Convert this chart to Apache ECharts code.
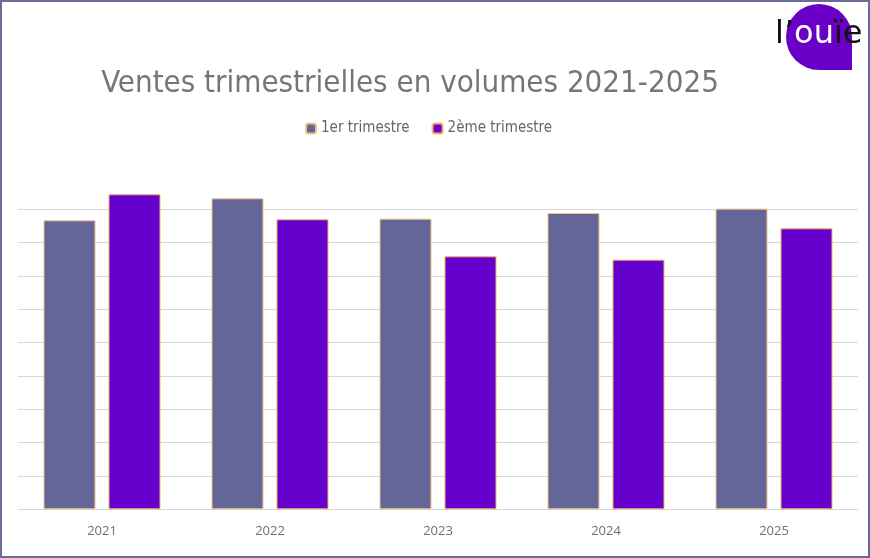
<!DOCTYPE html>
<html><head><meta charset="utf-8">
<script src="https://cdn.jsdelivr.net/npm/echarts@6/dist/echarts.min.js"></script>
<style>
html,body{margin:0;padding:0;background:#fff;}
#wrap{position:absolute;left:0;top:0;width:870px;height:558px;box-sizing:border-box;border:2px solid #6a6a9c;}
#c{position:absolute;left:0;top:0;width:870px;height:558px;}
</style></head>
<body><div id="c"></div><div id="wrap"></div>
<script>
const categories = ['2021','2022','2023','2024','2025'];
const seriesNames = ['1er trimestre','2ème trimestre'];
const q1 = [8.67, 9.33, 8.72, 8.89, 9.02];
const q2 = [9.45, 8.70, 7.59, 7.49, 8.43];
const titleText = 'Ventes trimestrielles en volumes 2021-2025';

const narrow = '"DejaVu Sans Condensed", Roboto';
const chart = echarts.init(document.getElementById('c'));
chart.setOption({
  animation:false,
  backgroundColor:'#fff',
  title:{text:titleText,left:405,top:63,textAlign:'center',
    textStyle:{color:'#767676',fontSize:31,fontWeight:'normal',fontFamily:narrow}},
  legend:{top:116,left:300,itemWidth:10,itemHeight:10,itemGap:22,
    textStyle:{color:'#666666',fontSize:15,fontFamily:narrow},
    data:seriesNames},
  grid:{left:18,right:12,top:209.3,bottom:48.7},
  xAxis:{type:'category',data:categories,
    axisLine:{lineStyle:{color:'#d9d9d9'}},axisTick:{show:false},
    axisLabel:{color:'#6f6f6f',fontSize:13,margin:15,fontFamily:'Open Sans'}},
  yAxis:{type:'value',min:0,max:9,interval:1,axisLabel:{show:false},
    axisLine:{show:false},axisTick:{show:false},
    splitLine:{lineStyle:{color:'#d9d9d9',width:1}}},
  series:[
    {name:seriesNames[0],type:'bar',data:q1,barWidth:52,barGap:'25%',clip:false,
      itemStyle:{color:'#656698',borderColor:'#f4c089',borderWidth:1}},
    {name:seriesNames[1],type:'bar',data:q2,barWidth:52,clip:false,
      itemStyle:{color:'#6600cc',borderColor:'#f4b060',borderWidth:1}}
  ],
  graphic:[
    {type:'circle',shape:{cx:819,cy:37,r:33},style:{fill:'#6a00c8'}},
    {type:'rect',shape:{x:819,y:37,width:33,height:33},style:{fill:'#6a00c8'}},
    {type:'text',left:775,top:19,style:{
      text:'{a|l\u2019}{b|ou}{a|\u00efe}',
      rich:{a:{fill:'#111',fontSize:32,fontFamily:'DejaVu Sans'},
            b:{fill:'#fff',fontSize:32,fontFamily:'DejaVu Sans'}}}}
  ]
});
</script></body></html>
